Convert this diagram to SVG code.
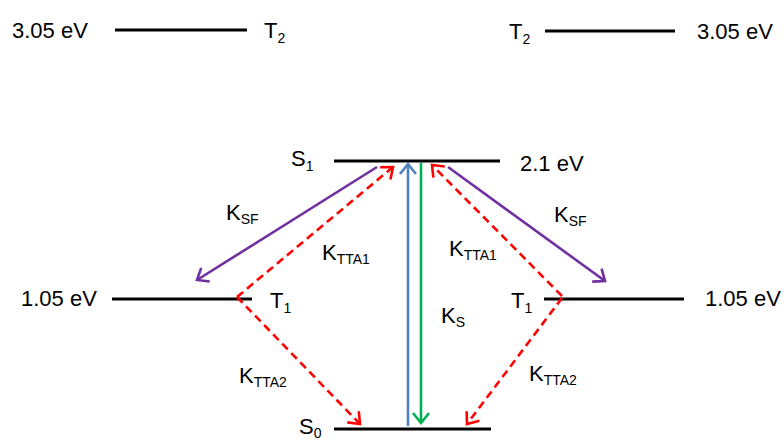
<svg xmlns="http://www.w3.org/2000/svg" width="784" height="441" viewBox="0 0 784 441">
<defs>
<style>
.lvl{stroke:#000;stroke-width:3;fill:none}
.t{font-family:"Liberation Sans",Arial,sans-serif;font-size:22px;fill:#000}
.s{font-size:14px}
.arr{fill:none;stroke-width:2.6}
.red{stroke:#ff0000;stroke-dasharray:8 5}
.pur{stroke:#7030a0}
.blu{stroke:#4f81bd}
.grn{stroke:#00b050}
</style>
<marker id="mr" markerUnits="userSpaceOnUse" markerWidth="24" markerHeight="24" refX="12" refY="12" orient="auto" overflow="visible"><path d="M2,4 L12,12 L2,20" fill="none" stroke="#ff0000" stroke-width="2.6"/></marker>
<marker id="mp" markerUnits="userSpaceOnUse" markerWidth="24" markerHeight="24" refX="12" refY="12" orient="auto" overflow="visible"><path d="M2,4 L12,12 L2,20" fill="none" stroke="#7030a0" stroke-width="2.6"/></marker>
<marker id="mb" markerUnits="userSpaceOnUse" markerWidth="24" markerHeight="24" refX="12" refY="12" orient="auto" overflow="visible"><path d="M2,4 L12,12 L2,20" fill="none" stroke="#4f81bd" stroke-width="2.6"/></marker>
<marker id="mg" markerUnits="userSpaceOnUse" markerWidth="24" markerHeight="24" refX="12" refY="12" orient="auto" overflow="visible"><path d="M2,4 L12,12 L2,20" fill="none" stroke="#00b050" stroke-width="2.6"/></marker>
</defs>
<rect width="784" height="441" fill="#fff"/>
<g id="T2-left">
<line class="lvl" x1="115" y1="30" x2="247" y2="30"/>
<text class="t" x="12" y="38">3.05 eV</text>
<text class="t" x="264" y="38">T<tspan class="s" dy="5">2</tspan></text>
</g>
<g id="T2-right">
<line class="lvl" x1="545" y1="31" x2="675" y2="31"/>
<text class="t" x="509" y="39">T<tspan class="s" dy="5">2</tspan></text>
<text class="t" x="697" y="39">3.05 eV</text>
</g>
<g id="S1">
<line class="lvl" x1="334" y1="161" x2="500" y2="161"/>
<text class="t" x="291" y="166">S<tspan class="s" dy="5">1</tspan></text>
<text class="t" x="520" y="171">2.1 eV</text>
</g>
<g id="T1-left">
<line class="lvl" x1="112" y1="299" x2="252" y2="299"/>
<text class="t" x="21" y="306">1.05 eV</text>
<text class="t" x="270" y="308">T<tspan class="s" dy="5">1</tspan></text>
</g>
<g id="T1-right">
<line class="lvl" x1="544" y1="299" x2="684" y2="299"/>
<text class="t" x="511" y="308">T<tspan class="s" dy="5">1</tspan></text>
<text class="t" x="705" y="306">1.05 eV</text>
</g>
<g id="S0">
<line class="lvl" x1="334" y1="429" x2="491" y2="429"/>
<text class="t" x="299" y="434">S<tspan class="s" dy="4">0</tspan></text>
</g>
<g id="connectors">
<line class="arr pur" x1="377" y1="167" x2="197" y2="280" marker-end="url(#mp)"/>
<line class="arr pur" x1="448" y1="167" x2="605" y2="281" marker-end="url(#mp)"/>
<line class="arr red" x1="237" y1="297" x2="393" y2="167" marker-end="url(#mr)"/>
<line class="arr red" x1="237" y1="297" x2="360" y2="424" marker-end="url(#mr)"/>
<line class="arr red" x1="562" y1="296" x2="432" y2="165" marker-end="url(#mr)"/>
<line class="arr red" x1="562" y1="298" x2="467" y2="424" marker-end="url(#mr)"/>
<line class="arr blu" x1="408" y1="426" x2="408" y2="164" marker-end="url(#mb)"/>
<line class="arr grn" x1="421" y1="163" x2="421" y2="423" marker-end="url(#mg)"/>
</g>
<g id="labels">
<text class="t" x="226" y="220">K<tspan class="s" dy="4">SF</tspan></text>
<text class="t" x="554" y="222">K<tspan class="s" dy="4">SF</tspan></text>
<text class="t" x="322" y="260">K<tspan class="s" dy="4">TTA1</tspan></text>
<text class="t" x="449" y="256">K<tspan class="s" dy="4">TTA1</tspan></text>
<text class="t" x="441" y="323">K<tspan class="s" dy="4">S</tspan></text>
<text class="t" x="239" y="383">K<tspan class="s" dy="4">TTA2</tspan></text>
<text class="t" x="529" y="381">K<tspan class="s" dy="4">TTA2</tspan></text>
</g>
</svg>
